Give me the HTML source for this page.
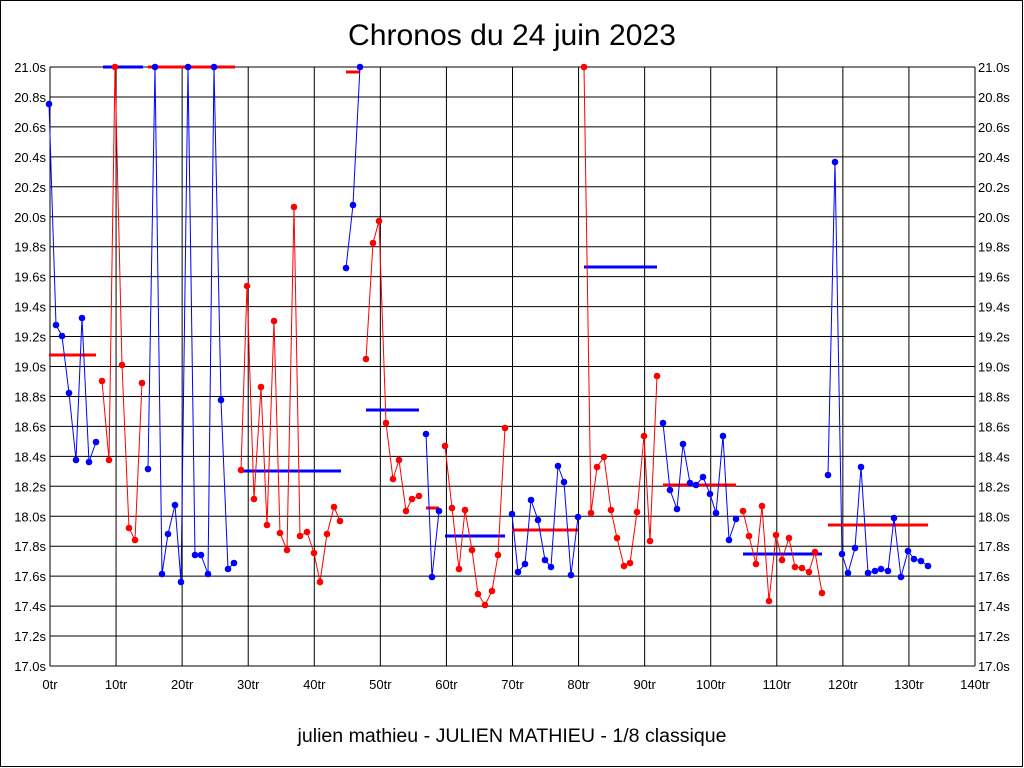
<!DOCTYPE html>
<html><head><meta charset="utf-8"><style>
html,body{margin:0;padding:0;background:#fff}
svg{display:block}
text{font-family:"Liberation Sans",sans-serif;}
</style></head><body>
<svg id="s" width="1024" height="768" viewBox="0 0 1024 768" xmlns="http://www.w3.org/2000/svg">
<rect x="0.5" y="0.5" width="1022" height="766" fill="#fff" stroke="#000"/>
<text x="512" y="45" font-size="30" text-anchor="middle" textLength="328" lengthAdjust="spacingAndGlyphs">Chronos du 24 juin 2023</text>
<text x="512" y="742" font-size="19" text-anchor="middle" textLength="429" lengthAdjust="spacingAndGlyphs">julien mathieu - JULIEN MATHIEU - 1/8 classique</text>
<g id="grid"></g>
<g id="data"></g>
</svg>
<script>
const NS="http://www.w3.org/2000/svg";
const g=document.getElementById('grid'),d=document.getElementById('data');
function el(p,tag,a,txt){const e=document.createElementNS(NS,tag);for(const k in a)e.setAttribute(k,a[k]);if(txt!==undefined)e.textContent=txt;p.appendChild(e);return e;}
const L=50,R=975,T=67,B=666;
for(let i=0;i<=20;i++){const y=T+(B-T)*i/20;el(g,'line',{x1:L,x2:R,y1:y,y2:y,stroke:'#000','stroke-width':1});
 const v=(21-i*0.2).toFixed(1)+'s';
 el(g,'text',{x:L-4,y:y+5,'font-size':13,'text-anchor':'end'},v);
 el(g,'text',{x:R+3,y:y+5,'font-size':13},v);}
for(let i=0;i<=14;i++){const x=L+(R-L)*i/14;el(g,'line',{x1:x,x2:x,y1:T,y2:B,stroke:'#000','stroke-width':1});
 el(g,'text',{x:x,y:689,'font-size':13,'text-anchor':'middle'},(i*10)+'tr');}
const segs=[
['b',[[49,104],[56,325],[62,336],[69,393],[76,460],[82,318],[89,462],[96,442]]],
['r',[[102,381],[109,460],[115,67],[122,365],[129,528],[135,540],[142,383]]],
['b',[[148,469],[155,67],[162,574],[168,534],[175,505],[181,582],[188,67],[195,555],[201,555],[208,574],[214,67],[221,400],[228,569],[234,563]]],
['r',[[241,470],[247,286],[254,499],[261,387],[267,525],[274,321],[280,533],[287,550],[294,207],[300,536],[307,532],[314,553],[320,582],[327,534],[334,507],[340,521]]],
['b',[[346,268],[353,205],[360,67]]],
['r',[[366,359],[373,243],[379,221],[386,423],[393,479],[399,460],[406,511],[412,499],[419,496]]],
['b',[[426,434],[432,577],[439,511]]],
['r',[[445,446],[452,508],[459,569],[465,510],[472,550],[478,594],[485,605],[492,591],[498,555],[505,428]]],
['b',[[512,514],[518,572],[525,564],[531,500],[538,520],[545,560],[551,567],[558,466],[564,482],[571,575],[578,517]]],
['r',[[584,67],[591,513],[597,467],[604,457],[611,510],[617,538],[624,566],[630,563],[637,512],[644,436],[650,541],[657,376]]],
['b',[[663,423],[670,490],[677,509],[683,444],[690,483],[696,485],[703,477],[710,494],[716,513],[723,436],[729,540],[736,519]]],
['r',[[743,511],[749,536],[756,564],[762,506],[769,601],[776,535],[782,560],[789,538],[795,567],[802,568],[809,572],[815,552],[822,593]]],
['b',[[828,475],[835,162],[842,554],[848,573],[855,548],[861,467],[868,573],[875,571],[881,569],[888,571],[894,518],[901,577],[908,551],[914,559],[921,561],[928,566]]]
];
const col={r:'#ff0000',b:'#0000ff'};
const means=[['r',49,96,355],['b',103,143,67],['r',148,235,67],['r',346,360,72],['b',241,341,471],['b',366,419,410],['r',426,439,508],['b',445,505,536],['r',512,578,530],['b',584,657,267],['r',663,736,485],['b',743,822,554],['r',828,928,525]];
for(const m of means)el(d,'line',{x1:m[1],x2:m[2],y1:m[3],y2:m[3],stroke:col[m[0]],'stroke-width':3});
for(const s of segs){el(d,'polyline',{points:s[1].map(p=>p.join(',')).join(' '),fill:'none',stroke:col[s[0]],'stroke-width':1});
 for(const p of s[1])el(d,'circle',{cx:p[0],cy:p[1],r:3.3,fill:col[s[0]]});}
</script>
</body></html>
